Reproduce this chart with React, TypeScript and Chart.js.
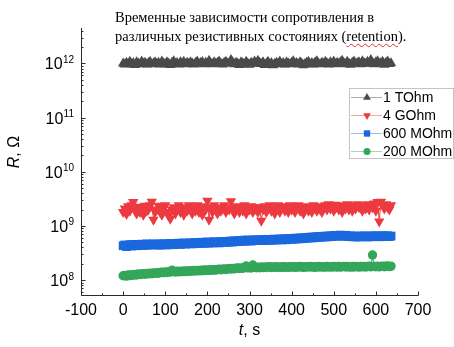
import { useEffect, useRef } from "react";
import { Chart, registerables } from "chart.js";

Chart.register(...registerables);

// ---------- data ----------
const TIME_S = [
  0, 4, 8, 12, 16, 20, 24, 28, 32, 36, 40, 44, 48, 52, 56, 60, 64, 68, 72, 76,
  80, 84, 88, 92, 96, 100, 104, 108, 112, 116, 120, 124, 128, 132, 136, 140, 144, 148, 152, 156,
  160, 164, 168, 172, 176, 180, 184, 188, 192, 196, 200, 204, 208, 212, 216, 220, 224, 228, 232, 236,
  240, 244, 248, 252, 256, 260, 264, 268, 272, 276, 280, 284, 288, 292, 296, 300, 304, 308, 312, 316,
  320, 324, 328, 332, 336, 340, 344, 348, 352, 356, 360, 364, 368, 372, 376, 380, 384, 388, 392, 396,
  400, 404, 408, 412, 416, 420, 424, 428, 432, 436, 440, 444, 448, 452, 456, 460, 464, 468, 472, 476,
  480, 484, 488, 492, 496, 500, 504, 508, 512, 516, 520, 524, 528, 532, 536, 540, 544, 548, 552, 556,
  560, 564, 568, 572, 576, 580, 584, 588, 592, 596, 600, 604, 608, 612, 616, 620, 624, 628, 632, 636,
];

// 1 TOhm state, values in units of 1e12 Ohm
const R_1TOHM_E12 = [
  1.0, 0.95, 1.03, 0.98, 1.07, 0.96, 1.02, 0.93, 1.05, 1.0, 0.96, 1.08, 0.98, 1.03, 0.95, 1.02, 1.07, 0.96, 1.0, 1.05,
  0.98, 1.03, 0.95, 1.08, 1.01, 0.96, 1.05, 1.0, 0.93, 1.03, 1.1, 0.98, 1.02, 0.95, 1.05, 1.0, 1.07, 0.96, 1.03, 0.98,
  1.05, 1.0, 0.95, 1.03, 1.08, 0.98, 1.02, 1.06, 0.96, 1.03, 1.0, 1.12, 1.01, 0.96, 1.05, 0.98, 1.03, 1.08, 1.0, 0.95,
  1.03, 1.07, 0.98, 1.02, 1.16, 1.05, 0.96, 1.03, 1.0, 0.93, 1.05, 1.01, 0.96, 1.07, 1.0, 0.94, 1.03, 0.98, 1.08, 1.01,
  1.12, 1.03, 0.97, 1.05, 0.93, 1.0, 1.07, 0.96, 1.02, 0.92, 0.98, 1.03, 1.0, 1.08, 0.96, 1.02, 0.95, 1.05, 1.0, 0.96,
  1.03, 1.1, 0.98, 1.02, 0.95, 1.05, 1.0, 0.92, 0.98, 1.03, 1.07, 0.96, 1.02, 0.95, 1.05, 1.1, 1.0, 0.96, 1.03, 0.98,
  1.07, 1.01, 0.95, 1.05, 1.0, 1.08, 0.96, 1.03, 0.98, 1.05, 1.12, 1.01, 0.96, 1.07, 1.0, 0.94, 1.03, 1.08, 0.98, 1.02,
  1.05, 0.96, 1.1, 1.01, 0.98, 1.07, 1.0, 1.15, 1.03, 0.96, 1.05, 1.1, 0.98, 1.02, 1.07, 0.94, 1.03, 1.08, 0.97, 1.01,
];

// 4 GOhm state, values in units of 1e9 Ohm
const R_4GOHM_E9 = [
  1.8, 2.1, 1.65, 2.3, 1.9, 2.4, 2.75, 2.0, 1.7, 2.25, 1.8, 2.1, 1.6, 2.35, 1.9, 2.0, 2.4, 2.8, 1.3, 1.8,
  2.0, 2.35, 1.8, 1.6, 2.1, 2.4, 1.8, 1.55, 1.35, 2.0, 2.2, 1.7, 2.0, 2.4, 1.8, 2.1, 1.6, 2.2, 1.9, 2.4,
  2.0, 1.7, 2.2, 1.9, 2.4, 1.8, 2.1, 1.6, 2.3, 2.0, 2.9, 1.3, 2.2, 1.8, 2.4, 2.0, 1.7, 2.2, 1.9, 2.1,
  2.4, 1.8, 2.1, 2.0, 2.85, 2.2, 1.7, 2.0, 2.3, 1.8, 2.2, 1.9, 2.4, 1.7, 2.1, 2.0, 2.3, 1.8, 2.2, 2.0,
  1.8, 2.2, 1.25, 2.0, 2.3, 1.8, 2.1, 2.4, 1.9, 2.2, 1.7, 2.0, 2.4, 1.8, 2.1, 2.3, 1.9, 2.2, 1.8, 2.4,
  2.0, 2.3, 1.8, 2.1, 2.4, 1.9, 2.2, 1.7, 2.0, 2.3, 1.9, 2.2, 1.8, 2.4, 2.1, 1.9, 2.3, 2.0, 1.8, 2.2,
  2.4, 2.0, 2.5, 2.1, 2.3, 1.9, 2.45, 2.2, 2.0, 2.4, 1.8, 2.3, 2.1, 2.5, 2.0, 2.2, 1.9, 2.4, 2.1, 2.5,
  2.2, 2.4, 1.9, 2.3, 2.1, 2.5, 2.0, 2.4, 2.2, 2.6, 1.9, 2.75, 1.2, 2.8, 2.4, 2.1, 2.5, 2.2, 2.0, 2.4,
];

// 600 MOhm state, values in units of 1e8 Ohm
const R_600MOHM_E8 = [
  4.3, 4.45, 4.15, 4.35, 4.5, 4.25, 4.55, 4.4, 4.3, 4.55, 4.4, 4.6, 4.35, 4.5, 4.65, 4.4, 4.6, 4.45, 4.65, 4.5,
  4.6, 4.4, 4.65, 4.45, 4.7, 4.55, 4.45, 4.65, 4.75, 4.5, 4.7, 4.55, 4.75, 4.8, 4.55, 4.75, 4.85, 4.6, 4.8, 4.7,
  4.85, 4.65, 4.9, 4.7, 4.95, 4.75, 4.85, 5.0, 4.75, 4.95, 5.05, 4.8, 5.0, 4.85, 5.1, 4.9, 5.05, 4.85, 5.1, 5.0,
  5.15, 4.95, 5.2, 5.0, 5.25, 5.05, 5.3, 5.1, 5.35, 5.15, 5.4, 5.2, 5.45, 5.25, 5.5, 5.3, 5.25, 5.5, 5.35, 5.55,
  5.35, 5.55, 5.4, 5.6, 5.35, 5.5, 5.65, 5.4, 5.6, 5.45, 5.7, 5.5, 5.65, 5.75, 5.5, 5.7, 5.8, 5.55, 5.75, 5.85,
  5.65, 5.9, 5.7, 5.95, 5.75, 6.0, 5.8, 6.05, 5.85, 6.1, 5.95, 6.2, 6.0, 6.25, 6.05, 6.35, 6.15, 6.4, 6.2, 6.45,
  6.25, 6.5, 6.3, 6.55, 6.35, 6.65, 6.45, 6.7, 6.5, 6.75, 6.55, 6.45, 6.7, 6.5, 6.35, 6.55, 6.3, 6.5, 6.25, 6.45,
  6.25, 6.5, 6.3, 6.55, 6.35, 6.25, 6.5, 6.3, 6.55, 6.35, 6.6, 6.4, 6.3, 6.55, 6.35, 6.6, 6.4, 6.55, 6.35, 6.5,
];

// 200 MOhm state, values in units of 1e8 Ohm
const R_200MOHM_E8 = [
  1.2, 1.22, 1.18, 1.24, 1.21, 1.26, 1.23, 1.27, 1.24, 1.29, 1.26, 1.3, 1.31, 1.28, 1.33, 1.3, 1.34, 1.31, 1.36, 1.33,
  1.37, 1.34, 1.38, 1.4, 1.37, 1.41, 1.38, 1.43, 1.4, 1.52, 1.44, 1.41, 1.45, 1.42, 1.46, 1.43, 1.47, 1.44, 1.48, 1.45,
  1.49, 1.46, 1.5, 1.47, 1.51, 1.48, 1.52, 1.49, 1.53, 1.5, 1.54, 1.51, 1.55, 1.52, 1.56, 1.53, 1.57, 1.58, 1.55, 1.59,
  1.6, 1.57, 1.61, 1.63, 1.6, 1.64, 1.61, 1.65, 1.67, 1.64, 1.68, 1.65, 1.69, 1.82, 1.68, 1.71, 1.67, 1.9, 1.72, 1.69,
  1.73, 1.69, 1.74, 1.7, 1.75, 1.71, 1.74, 1.76, 1.71, 1.75, 1.72, 1.76, 1.73, 1.71, 1.76, 1.72, 1.77, 1.73, 1.72, 1.76,
  1.73, 1.77, 1.72, 1.76, 1.73, 1.78, 1.74, 1.72, 1.77, 1.73, 1.76, 1.78, 1.73, 1.77, 1.72, 1.76, 1.78, 1.73, 1.77, 1.74,
  1.73, 1.78, 1.74, 1.77, 1.73, 1.79, 1.75, 1.74, 1.78, 1.73, 1.77, 1.79, 1.74, 1.78, 1.75, 1.73, 1.78, 1.74, 1.79, 1.75,
  1.74, 1.78, 1.75, 1.79, 1.74, 1.78, 1.8, 1.75, 2.9, 1.79, 1.76, 1.8, 1.75, 1.79, 1.81, 1.76, 1.8, 1.82, 1.77, 1.81,
];

const SERIES_LABELS = ["1 TOhm", "4 GOhm", "600 MOhm", "200 MOhm"];
const X_TICKS = [-100, 0, 100, 200, 300, 400, 500, 600, 700];
const Y_TICK_EXPONENTS = [8, 9, 10, 11, 12];
const X_MIN = -100;
const X_MAX = 700;
const Y_MIN = 5.3e7;
const Y_MAX = 4.5e12;

// ---------- styles ----------
const COLORS = ["#4a4a4a", "#ec3a40", "#1a68de", "#34a65a"];
const STYLES = ["triangle", "triangleDown", "rect", "circle"];
const RADII = [6, 6, 6.2, 4.7];
const SANS = '"Liberation Sans", Arial, Helvetica, sans-serif';
const AXIS_COLOR = "#2a2a2a";

function withAlpha(hex: string, a: number) {
  const n = parseInt(hex.slice(1), 16);
  return `rgba(${(n >> 16) & 255},${(n >> 8) & 255},${n & 255},${a})`;
}

function drawMarker(ctx: CanvasRenderingContext2D, style: string, x: number, y: number, r: number) {
  ctx.beginPath();
  if (style === "triangle" || style === "triangleDown") {
    const s = style === "triangle" ? 1 : -1;
    for (let k = 0; k < 3; k++) {
      const ang = (k * 2 * Math.PI) / 3;
      const px = x + Math.sin(ang) * r;
      const py = y - s * Math.cos(ang) * r;
      if (k === 0) ctx.moveTo(px, py);
      else ctx.lineTo(px, py);
    }
    ctx.closePath();
  } else if (style === "rect") {
    const h = r * Math.SQRT1_2;
    ctx.rect(x - h, y - h, 2 * h, 2 * h);
  } else {
    ctx.arc(x, y, r, 0, Math.PI * 2);
  }
  ctx.fill();
}

const decorPlugin = {
  id: "decor",
  afterDraw(chart: any) {
    const { ctx, chartArea: a } = chart;
    const xs = chart.scales.x;
    const ys = chart.scales.y;
    const L = Math.round(a.left) + 0.5;
    const B = Math.round(a.bottom) + 0.5;
    ctx.save();
    // axis lines
    ctx.strokeStyle = AXIS_COLOR;
    ctx.lineWidth = 1;
    ctx.beginPath();
    ctx.moveTo(L, a.top);
    ctx.lineTo(L, B);
    ctx.lineTo(a.right + 0.5, B);
    // x ticks (inside)
    for (let i = 0; i < X_TICKS.length; i++) {
      const px = Math.round(xs.getPixelForValue(X_TICKS[i])) + 0.5;
      ctx.moveTo(px, B);
      ctx.lineTo(px, B - 4);
      if (i < X_TICKS.length - 1) {
        const mid = (X_TICKS[i] + X_TICKS[i + 1]) / 2;
        const pm = Math.round(xs.getPixelForValue(mid)) + 0.5;
        ctx.moveTo(pm, B);
        ctx.lineTo(pm, B - 2);
      }
    }
    // y ticks (inside)
    for (const e of Y_TICK_EXPONENTS) {
      const py = Math.round(ys.getPixelForValue(Math.pow(10, e))) + 0.5;
      ctx.moveTo(L, py);
      ctx.lineTo(L + 4, py);
    }
    for (let e = 7; e <= 12; e++) {
      for (let k = 2; k <= 9; k++) {
        const v = k * Math.pow(10, e);
        if (v <= Y_MIN || v >= Y_MAX) continue;
        const py = Math.round(ys.getPixelForValue(v)) + 0.5;
        ctx.moveTo(L, py);
        ctx.lineTo(L + 2, py);
      }
    }
    ctx.stroke();

    // x tick labels
    ctx.fillStyle = "#000";
    ctx.font = `16px ${SANS}`;
    ctx.textAlign = "center";
    ctx.textBaseline = "alphabetic";
    for (const v of X_TICKS) {
      ctx.fillText(String(v), xs.getPixelForValue(v), 315);
    }
    // y tick labels: 10^e
    for (const e of Y_TICK_EXPONENTS) {
      const py = ys.getPixelForValue(Math.pow(10, e));
      const exp = String(e);
      ctx.font = `10px ${SANS}`;
      const ew = ctx.measureText(exp).width;
      const ex = a.left - 7 - ew;
      ctx.textAlign = "left";
      ctx.fillText(exp, ex, py - 0.5);
      ctx.font = `16px ${SANS}`;
      ctx.textAlign = "right";
      ctx.fillText("10", ex - 0.3, py + 6);
    }

    // x axis title: t, s
    ctx.textAlign = "left";
    ctx.font = `italic 16px ${SANS}`;
    const tw = ctx.measureText("t").width;
    ctx.font = `16px ${SANS}`;
    const rw = ctx.measureText(", s").width;
    const cx = (a.left + a.right) / 2;
    let sx = cx - (tw + rw) / 2;
    ctx.font = `italic 16px ${SANS}`;
    ctx.fillText("t", sx, 335);
    ctx.font = `16px ${SANS}`;
    ctx.fillText(", s", sx + tw, 335);

    // y axis title: R, Ω
    ctx.save();
    ctx.translate(19, 152);
    ctx.rotate(-Math.PI / 2);
    ctx.font = `italic 16px ${SANS}`;
    const Rw = ctx.measureText("R").width;
    ctx.font = `16px ${SANS}`;
    const Ow = ctx.measureText(", Ω").width;
    sx = -(Rw + Ow) / 2;
    ctx.font = `italic 16px ${SANS}`;
    ctx.fillText("R", sx, 0);
    ctx.font = `16px ${SANS}`;
    ctx.fillText(", Ω", sx + Rw, 0);
    ctx.restore();

    // legend
    const bx = 349.5, by = 88.5, bw = 104, bh = 70;
    ctx.fillStyle = "#fff";
    ctx.fillRect(bx, by, bw, bh);
    ctx.strokeStyle = "#c4c4c4";
    ctx.strokeRect(bx, by, bw, bh);
    ctx.font = `14px ${SANS}`;
    ctx.textBaseline = "middle";
    ctx.textAlign = "left";
    for (let i = 0; i < SERIES_LABELS.length; i++) {
      const ry = 97 + i * 18;
      ctx.strokeStyle = withAlpha(COLORS[i], 0.45);
      ctx.beginPath();
      ctx.moveTo(351, ry + 0.5);
      ctx.lineTo(382, ry + 0.5);
      ctx.stroke();
      ctx.fillStyle = COLORS[i];
      drawMarker(ctx, STYLES[i], 367, ry + 0.5, STYLES[i] === "circle" ? 3.5 : 4.5);
      ctx.fillStyle = "#000";
      ctx.fillText(SERIES_LABELS[i], 383, ry + 1);
    }
    ctx.restore();
  },
};

export default function App() {
  const ref = useRef<HTMLCanvasElement>(null);

  useEffect(() => {
    const values = [
      R_1TOHM_E12.map((v) => v * 1e12),
      R_4GOHM_E9.map((v) => v * 1e9),
      R_600MOHM_E8.map((v) => v * 1e8),
      R_200MOHM_E8.map((v) => v * 1e8),
    ];
    const datasets = values.map((vals, i) => ({
      label: SERIES_LABELS[i],
      data: TIME_S.map((t, j) => ({ x: t, y: vals[j] })),
      showLine: true,
      borderColor: COLORS[i],
      borderWidth: 1,
      backgroundColor: COLORS[i],
      pointBackgroundColor: COLORS[i],
      pointBorderColor: COLORS[i],
      pointBorderWidth: 0,
      pointStyle: STYLES[i] === "triangleDown" ? "triangle" : STYLES[i],
      rotation: STYLES[i] === "triangleDown" ? 180 : 0,
      pointRadius: RADII[i],
      tension: 0,
    }));

    const chart = new Chart(ref.current as HTMLCanvasElement, {
      type: "scatter",
      data: { datasets },
      options: {
        responsive: false,
        devicePixelRatio: 1,
        animation: false,
        events: [],
        layout: { padding: { top: 28, right: 36, left: 0, bottom: 0 } },
        plugins: {
          legend: { display: false },
          tooltip: { enabled: false },
          title: { display: false },
        },
        scales: {
          x: {
            type: "linear",
            min: X_MIN,
            max: X_MAX,
            grid: { display: false },
            border: { display: false },
            ticks: { display: false },
            afterFit: (s: any) => {
              s.height = 52;
            },
          },
          y: {
            type: "logarithmic",
            min: Y_MIN,
            max: Y_MAX,
            grid: { display: false },
            border: { display: false },
            ticks: { display: false },
            afterFit: (s: any) => {
              s.width = 81;
            },
          },
        },
      } as any,
      plugins: [decorPlugin],
    });
    return () => chart.destroy();
  }, []);

  return (
    <div style={{ position: "fixed", left: 0, top: 0, width: 454, height: 347, background: "#fff" }}>
      <canvas ref={ref} width={454} height={347} style={{ display: "block", width: 454, height: 347 }} />
      <div
        style={{
          position: "absolute",
          left: 115,
          top: 8,
          font: '14.5px "Liberation Serif", "Times New Roman", serif',
          lineHeight: "18.5px",
          whiteSpace: "nowrap",
          color: "#000",
        }}
      >
        Временные зависимости сопротивления в
        <br />
        различных резистивных состояниях (
        <span style={{ textDecoration: "underline wavy #e0302a", textUnderlineOffset: "2px", textDecorationThickness: "1px" }}>
          retention
        </span>
        ).
      </div>
    </div>
  );
}
